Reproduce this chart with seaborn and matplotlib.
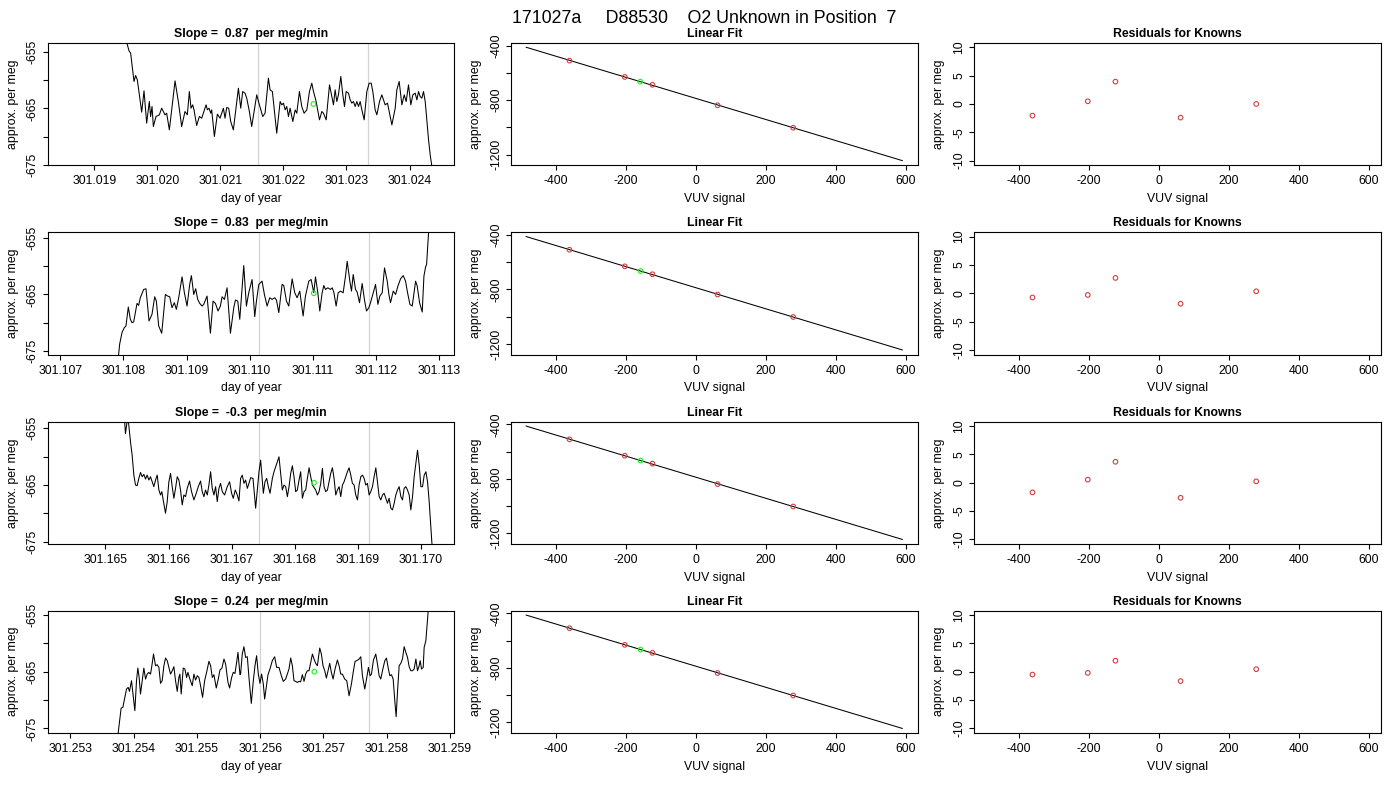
import numpy as np
import pandas as pd
import seaborn as sns
import matplotlib
matplotlib.use("Agg")
import matplotlib.pyplot as plt
from matplotlib.ticker import FormatStrFormatter

# ---- data ----
main_title = "171027a     D88530    O2 Unknown in Position  7"
slope_labels = ["0.87", "0.83", "-0.3", "0.24"]

# left panels: approx. per meg vs day of year
t1 = [301.018500, 301.019000, 301.019514, 301.019551, 301.019577, 301.019630, 301.019656, 301.019683, 301.019752, 301.019789,
      301.019831, 301.019873, 301.019894, 301.019916, 301.019937, 301.019979, 301.020032, 301.020069, 301.020095, 301.020122,
      301.020148, 301.020191, 301.020281, 301.020333, 301.020386, 301.020439, 301.020476, 301.020508, 301.020534, 301.020561,
      301.020582, 301.020624, 301.020667, 301.020704, 301.020773, 301.020794, 301.020820, 301.020847, 301.020862, 301.020905,
      301.020952, 301.020995, 301.021048, 301.021074, 301.021101, 301.021132, 301.021164, 301.021206, 301.021286, 301.021323,
      301.021354, 301.021391, 301.021418, 301.021460, 301.021497, 301.021577, 301.021619, 301.021672, 301.021709, 301.021762,
      301.021788, 301.021825, 301.021894,
      301.021948, 301.021974, 301.022001, 301.022027, 301.022053, 301.022080, 301.022106, 301.022149, 301.022186, 301.022212,
      301.022254, 301.022291, 301.022328, 301.022371, 301.022413, 301.022450, 301.022477, 301.022519, 301.022572, 301.022609,
      301.022635, 301.022678, 301.022731, 301.022768, 301.022794, 301.022820, 301.022847, 301.022873, 301.022910, 301.022942,
      301.022969, 301.022995, 301.023032, 301.023059, 301.023085, 301.023111, 301.023138, 301.023164, 301.023191, 301.023217,
      301.023244, 301.023281, 301.023323, 301.023360, 301.023392, 301.023418, 301.023455, 301.023482, 301.023524, 301.023561,
      301.023614, 301.023651, 301.023683, 301.023720, 301.023773, 301.023799, 301.023836, 301.023879, 301.023916, 301.023947,
      301.023984, 301.024021, 301.024053, 301.024090, 301.024117, 301.024143, 301.024169, 301.024196, 301.024222, 301.024249,
      301.024275, 301.024302, 301.024328, 301.024355, 301.024470]
v1 = [-632.0, -645.0, -653.31, -654.83, -655.25, -660.24, -659.18, -659.95, -665.65, -661.89,
      -667.59, -663.77, -666.42, -664.65, -668.18, -666.42, -666.12, -664.95, -665.53, -666.12,
      -665.83, -668.77, -660.13, -663.77, -668.18, -665.53, -666.12, -662.01, -664.95, -664.36,
      -665.24, -668.00, -666.42, -666.71, -664.36, -665.24, -664.95, -665.83, -665.24, -669.94,
      -666.00, -666.71, -664.95, -666.71, -664.83, -664.95, -667.30, -668.77, -661.42, -664.95,
      -662.01, -662.30, -663.18, -665.53, -668.18, -662.59, -664.36, -666.42, -665.83, -659.65,
      -661.71, -662.01, -669.36,
      -663.77, -664.36, -664.06, -665.24, -664.65, -666.42, -664.95, -667.30, -665.24, -665.83,
      -662.01, -664.65, -665.83, -665.24, -662.01, -660.54, -662.01, -663.77, -667.00, -665.53,
      -665.83, -667.00, -660.83, -662.89, -664.36, -661.71, -663.77, -662.59, -659.36, -662.59,
      -664.65, -662.01, -662.30, -663.48, -664.06, -663.77, -664.65, -663.77, -664.65, -663.77,
      -665.24, -667.00, -662.01, -660.54, -660.54, -662.01, -665.24, -666.12, -663.77, -662.59,
      -664.36, -664.06, -665.83, -667.89, -664.95, -661.71, -660.24, -664.36, -662.59, -663.77,
      -660.83, -664.36, -662.59, -662.30, -663.48, -662.01, -662.89, -663.18, -662.01, -663.77,
      -667.00, -670.53, -673.18, -675.23, -681.0]

t2 = [301.107040, 301.107900,
      301.107925, 301.107941, 301.107978, 301.108015, 301.108041, 301.108078, 301.108110, 301.108136, 301.108163, 301.108189,
      301.108216, 301.108242, 301.108268, 301.108321, 301.108358, 301.108406, 301.108453, 301.108496, 301.108522, 301.108559,
      301.108607, 301.108665, 301.108702, 301.108733, 301.108770, 301.108807, 301.108839, 301.108876, 301.108902, 301.108929,
      301.108966, 301.109008, 301.109050, 301.109077, 301.109114, 301.109145, 301.109177, 301.109209, 301.109246, 301.109272,
      301.109325, 301.109378, 301.109420, 301.109457, 301.109499, 301.109536, 301.109563, 301.109600, 301.109642, 301.109695,
      301.109748, 301.109774, 301.109811, 301.109843,
      301.109906, 301.109948, 301.109985, 301.110038, 301.110080, 301.110107, 301.110144, 301.110196, 301.110233, 301.110276,
      301.110318, 301.110355, 301.110397, 301.110424, 301.110461, 301.110513, 301.110540, 301.110582, 301.110619, 301.110672,
      301.110714, 301.110751, 301.110793, 301.110846, 301.110883, 301.110936, 301.110973, 301.111015, 301.111042, 301.111079,
      301.111110, 301.111147, 301.111174, 301.111200, 301.111237, 301.111279, 301.111306, 301.111332, 301.111369, 301.111401,
      301.111438, 301.111480, 301.111517, 301.111544, 301.111586, 301.111612, 301.111639, 301.111676, 301.111702, 301.111739,
      301.111781, 301.111818, 301.111850, 301.111887, 301.111913, 301.111950, 301.111993, 301.112030, 301.112061, 301.112098,
      301.112135, 301.112178, 301.112204, 301.112230, 301.112273, 301.112310, 301.112347, 301.112389, 301.112431, 301.112468,
      301.112495, 301.112537, 301.112574, 301.112627, 301.112653, 301.112690, 301.112732, 301.112759, 301.112785, 301.112801,
      301.112822, 301.112833, 301.113000]
v2 = [-700.0, -680.0,
      -675.53, -673.78, -671.73, -670.86, -670.56, -667.23, -669.39, -669.98, -669.86, -668.22,
      -666.59, -666.94, -665.59, -664.13, -664.01, -669.69, -668.52, -665.42, -666.18, -670.56,
      -671.85, -665.01, -665.30, -665.42, -667.35, -666.47, -667.64, -665.59, -663.84, -661.91,
      -664.72, -667.06, -663.25, -661.68, -665.01, -664.01, -665.89, -666.59, -667.06, -666.76,
      -665.30, -671.85, -666.18, -666.59, -667.93, -667.06, -665.42, -665.89, -663.84, -671.85,
      -667.35, -666.00, -666.18, -669.39,
      -659.92, -667.06, -664.72, -662.38, -668.93, -666.18, -663.25, -662.67, -665.01, -667.06,
      -665.59, -665.89, -665.59, -666.00, -668.22, -663.25, -663.43, -666.18, -667.06, -662.26,
      -664.72, -665.59, -664.42, -668.81, -665.30, -662.67, -662.38, -664.72, -661.91, -664.72,
      -667.93, -664.72, -663.43, -664.13, -663.84, -664.13, -663.84, -664.60, -667.06, -664.72,
      -664.42, -664.72, -661.79, -659.16, -662.67, -664.42, -661.50, -664.13, -664.60, -666.47,
      -663.08, -666.00, -667.93, -667.35, -666.47, -665.01, -663.25, -666.76, -665.30, -664.72,
      -660.33, -662.67, -665.01, -666.47, -664.42, -665.01, -663.55, -662.26, -661.68, -662.67,
      -664.42, -666.76, -667.06, -662.67, -663.55, -666.47, -668.11, -661.79, -660.16, -659.75,
      -655.94, -654.01, -645.0]

t3 = [301.164323, 301.165290, 301.165317, 301.165355,
      301.165370, 301.165397, 301.165423, 301.165450, 301.165476, 301.165503, 301.165529, 301.165556, 301.165582, 301.165609,
      301.165635, 301.165661, 301.165688, 301.165714, 301.165741, 301.165767, 301.165794, 301.165820, 301.165847, 301.165873,
      301.165894, 301.165915, 301.165952, 301.165979, 301.166005, 301.166032, 301.166058, 301.166085, 301.166111, 301.166138,
      301.166164, 301.166190, 301.166217, 301.166243, 301.166270, 301.166296, 301.166333, 301.166365, 301.166402, 301.166439,
      301.166471, 301.166508, 301.166534, 301.166561, 301.166587, 301.166614, 301.166640, 301.166667, 301.166693, 301.166720,
      301.166746, 301.166772, 301.166799, 301.166825, 301.166852, 301.166889, 301.166931, 301.166968, 301.167000, 301.167026,
      301.167058, 301.167090, 301.167116,
      301.167143, 301.167169, 301.167196, 301.167222, 301.167249, 301.167275, 301.167302, 301.167339, 301.167381, 301.167407,
      301.167434, 301.167460, 301.167487, 301.167503, 301.167529, 301.167556, 301.167582, 301.167609, 301.167646, 301.167672,
      301.167698, 301.167725, 301.167751, 301.167778, 301.167804, 301.167831, 301.167857, 301.167884, 301.167910, 301.167937,
      301.167963, 301.167989, 301.168016, 301.168042, 301.168069, 301.168095, 301.168122, 301.168148, 301.168175, 301.168201,
      301.168228, 301.168254, 301.168280, 301.168333, 301.168360, 301.168386, 301.168413, 301.168439, 301.168466, 301.168492,
      301.168519, 301.168545, 301.168571, 301.168598, 301.168624, 301.168651, 301.168677, 301.168704, 301.168730, 301.168757,
      301.168783, 301.168810, 301.168836, 301.168862, 301.168889, 301.168915, 301.168942, 301.168968, 301.168995, 301.169021,
      301.169048, 301.169074, 301.169101, 301.169127, 301.169153, 301.169180, 301.169206, 301.169233, 301.169259, 301.169286,
      301.169312, 301.169339, 301.169365, 301.169392, 301.169418, 301.169444, 301.169471, 301.169497, 301.169524, 301.169550,
      301.169577, 301.169603, 301.169630, 301.169656, 301.169683, 301.169709, 301.169735, 301.169762, 301.169788, 301.169815,
      301.169841, 301.169868, 301.169894, 301.169921, 301.169947, 301.169974, 301.170000, 301.170027, 301.170053, 301.170080,
      301.170106, 301.170132, 301.170159, 301.170175, 301.170290]
v3 = [-638.0, -651.5, -655.94, -652.8,
      -654.47, -657.40, -659.74, -663.25, -665.00, -665.12, -663.83, -662.78, -663.54, -663.13,
      -663.95, -663.25, -664.12, -663.54, -664.42, -665.29, -664.12, -663.25, -665.88, -666.76,
      -666.17, -667.63, -669.97, -667.92, -664.42, -662.95, -665.29, -667.34, -665.59, -663.54,
      -664.12, -665.88, -668.51, -666.76, -667.05, -665.59, -664.30, -666.17, -667.63, -666.46,
      -665.29, -664.30, -666.17, -667.05, -665.88, -666.76, -665.00, -662.66, -665.59, -666.76,
      -665.29, -667.92, -665.59, -664.71, -666.17, -666.76, -665.29, -664.42, -666.46, -667.34,
      -665.88, -666.76, -667.81,
      -663.83, -663.25, -664.71, -664.12, -665.59, -664.71, -663.71, -663.83, -669.09, -665.88,
      -662.66, -660.61, -664.42, -666.46, -664.42, -663.83, -665.29, -666.46, -663.83, -662.66,
      -661.78, -660.91, -660.03, -662.95, -665.88, -665.00, -665.29, -667.05, -665.29, -662.95,
      -661.61, -663.54, -666.17, -665.88, -664.12, -662.66, -667.34, -666.17, -665.88, -663.83,
      -661.96, -663.54, -665.00, -665.88, -666.76, -666.17, -664.71, -662.08, -665.29, -666.17,
      -665.88, -664.42, -662.95, -661.96, -663.83, -666.76, -665.88, -665.29, -667.05, -665.00,
      -664.42, -663.54, -662.66, -661.96, -663.25, -664.71, -665.00, -666.76, -667.63, -665.00,
      -663.54, -663.25, -663.83, -665.00, -664.71, -666.76, -666.17, -665.29, -663.54, -661.96,
      -664.42, -667.05, -667.63, -666.76, -666.46, -667.34, -668.22, -667.34, -669.09, -669.39,
      -668.22, -666.76, -665.88, -665.29, -667.05, -667.63, -665.59, -665.29, -665.88, -666.76,
      -669.39, -667.05, -663.54, -661.20, -658.86, -661.49, -665.29, -665.29, -663.25, -662.66,
      -664.42, -667.92, -672.60, -675.23, -684.0]

t4 = [301.252879, 301.253740,
      301.253755, 301.253781, 301.253802, 301.253829, 301.253860, 301.253887, 301.253913, 301.253934, 301.253966, 301.253992,
      301.254019, 301.254045, 301.254066, 301.254087, 301.254108, 301.254135, 301.254161, 301.254188, 301.254214, 301.254240,
      301.254267, 301.254288, 301.254314, 301.254346, 301.254372, 301.254399, 301.254425, 301.254451, 301.254478, 301.254504,
      301.254531, 301.254557, 301.254583, 301.254610, 301.254636, 301.254662, 301.254689, 301.254715, 301.254731, 301.254752,
      301.254784, 301.254810, 301.254837, 301.254858, 301.254889, 301.254926, 301.254953, 301.254979, 301.255006, 301.255032,
      301.255058, 301.255090, 301.255122, 301.255153, 301.255190, 301.255217, 301.255243, 301.255269, 301.255306, 301.255338,
      301.255364, 301.255396, 301.255428, 301.255454, 301.255491, 301.255517, 301.255549, 301.255575, 301.255602, 301.255628,
      301.255649, 301.255681,
      301.255691, 301.255717, 301.255744, 301.255770, 301.255797, 301.255823, 301.255860, 301.255892, 301.255918, 301.255944,
      301.255971, 301.255997, 301.256023, 301.256050, 301.256071, 301.256103, 301.256124, 301.256155, 301.256192, 301.256229,
      301.256261, 301.256298, 301.256335, 301.256366, 301.256403, 301.256430, 301.256456, 301.256483, 301.256509, 301.256535,
      301.256562, 301.256588, 301.256614, 301.256641, 301.256667, 301.256694, 301.256720, 301.256746, 301.256773, 301.256799,
      301.256826, 301.256852, 301.256878, 301.256905, 301.256942, 301.256968, 301.256994, 301.257021, 301.257047, 301.257074,
      301.257100, 301.257126, 301.257153, 301.257184, 301.257221, 301.257248, 301.257274, 301.257300, 301.257337, 301.257369,
      301.257406, 301.257443, 301.257475, 301.257501, 301.257527, 301.257564, 301.257591, 301.257617, 301.257654, 301.257686,
      301.257712, 301.257739, 301.257760, 301.257791, 301.257828, 301.257855, 301.257881, 301.257907, 301.257934, 301.257971,
      301.257997, 301.258023, 301.258050, 301.258076, 301.258103, 301.258129, 301.258150, 301.258171, 301.258198, 301.258224,
      301.258250, 301.258277, 301.258303, 301.258330, 301.258356, 301.258382, 301.258409, 301.258435, 301.258462, 301.258488,
      301.258514, 301.258530, 301.258551, 301.258578, 301.258593, 301.258620, 301.258636, 301.258657, 301.258830]
v4 = [-700.0, -678.0,
      -675.81, -673.34, -671.40, -671.28, -669.52, -668.05, -667.76, -668.46, -666.58, -669.23,
      -671.87, -666.58, -664.35, -666.01, -668.93, -666.58, -664.35, -666.29, -665.41, -665.11,
      -665.41, -663.94, -661.88, -663.94, -663.76, -664.23, -667.05, -666.58, -663.94, -662.58,
      -663.05, -664.23, -665.41, -664.82, -664.11, -666.58, -668.46, -666.01, -665.41, -668.93,
      -664.35, -664.52, -666.01, -665.11, -666.29, -667.46, -665.41, -666.46, -665.70, -666.01,
      -667.46, -669.52, -666.58, -665.11, -663.17, -663.94, -666.01, -665.52, -667.87, -666.29,
      -664.70, -664.35, -662.76, -663.64, -666.88, -667.87, -666.01, -665.11, -665.29, -663.35,
      -661.58, -665.52,
      -665.41, -661.88, -660.58, -662.47, -662.35, -666.01, -670.58, -666.58, -663.94, -662.17,
      -665.41, -667.05, -665.41, -667.17, -669.81, -667.17, -665.52, -664.52, -663.05, -662.35,
      -664.23, -664.23, -665.70, -666.70, -666.29, -665.41, -664.52, -662.58, -663.94, -666.58,
      -666.70, -666.88, -666.70, -666.76, -665.52, -666.70, -665.41, -664.82, -664.82, -663.35,
      -661.88, -662.76, -663.52, -663.94, -660.82, -661.88, -663.94, -664.82, -666.11, -664.82,
      -663.52, -665.11, -666.29, -664.52, -662.94, -663.94, -665.41, -665.41, -666.29, -666.58,
      -669.23, -667.17, -664.82, -663.17, -663.05, -662.76, -662.35, -665.70, -668.05, -666.01,
      -664.23, -665.70, -665.41, -662.94, -661.88, -663.64, -665.70, -666.29, -664.82, -663.05,
      -662.58, -664.23, -665.70, -665.52, -666.29, -670.11, -672.93, -668.64, -663.94, -663.52,
      -662.76, -660.58, -661.58, -662.47, -664.11, -664.82, -664.82, -664.52, -662.76, -664.82,
      -663.94, -663.05, -664.52, -664.23, -660.70, -659.53, -657.18, -654.24, -640.0]

times = [t1, t2, t3, t4]
values = [v1, v2, v3, v4]

# unknown (green) point and the two grey window markers per row
unk_time = [301.022476, 301.111015, 301.168306, 301.256857]
unk_value = [-664.2, -664.8, -664.6, -665.0]
window_start = [301.021603, 301.110143, 301.167433, 301.255992]
window_end = [301.023349, 301.111886, 301.169179, 301.257722]
xtick_start = [301.019, 301.107, 301.165, 301.253]
xtick_end = [301.024, 301.113, 301.170, 301.259]

# linear fit of knowns (VUV signal -> approx. per meg)
known_vuv = [-361, -203, -124, 62, 278]
unk_vuv = [-159, -158, -158, -158]
fit_slope = -0.7742
fit_intercept = -787.2
fit_vuv_range = [-485, 590]
residuals = [
    [-2.06, 0.47, 3.94, -2.41, 0.0],
    [-0.75, -0.3, 2.7, -1.85, 0.35],
    [-1.7, 0.55, 3.7, -2.65, 0.25],
    [-0.5, -0.2, 1.95, -1.65, 0.45],
]

# ---- style ----
sns.set_style("ticks")
plt.rcParams['font.family'] = ['Liberation Sans', 'DejaVu Sans']
plt.rcParams.update({
    "axes.unicode_minus": False,
    "text.color": "black",
    "axes.labelcolor": "black",
    "axes.edgecolor": "black",
    "axes.linewidth": 0.8,
    "xtick.direction": "out",
    "ytick.direction": "out",
    "xtick.major.size": 3.8,
    "ytick.major.size": 3.8,
    "xtick.major.width": 0.8,
    "ytick.major.width": 0.8,
    "xtick.color": "black",
    "ytick.color": "black",
    "xtick.labelsize": 8.8,
    "ytick.labelsize": 8.8,
    "axes.labelsize": 8.8,
})

FS = 8.8
RED = "#D04040"
GREEN = "#22EE22"

fig = plt.figure(figsize=(14, 8), dpi=100)
fig.suptitle(main_title, x=0.503, y=0.988, fontsize=12.8, va="top", color="black")

col_left = [47.7, 511.0, 974.0]
ax_w = 406.5
row_top = [42.7, 232.0, 421.5, 610.5]
ax_h = 122.5


def make_ax(r, c):
    rect = [col_left[c] / 1400, 1 - (row_top[r] + ax_h) / 800, ax_w / 1400, ax_h / 800]
    ax = fig.add_axes(rect)
    for s in ax.spines.values():
        s.set_visible(True)
        s.set_color("black")
        s.set_linewidth(0.8)
    return ax


def style_yticks(ax, ticks, labels):
    ax.set_yticks(ticks)
    ax.set_yticklabels(labels, rotation=90, va="center")
    ax.tick_params(axis="y", pad=2.5)
    ax.tick_params(axis="x", pad=3.5)


def expand(lo, hi, f=0.04):
    d = (hi - lo) * f
    return lo - d, hi + d


fit_x = np.array(fit_vuv_range, dtype=float)
fit_y = fit_intercept + fit_slope * fit_x
vuv_lim = expand(fit_x.min(), fit_x.max())
MS = 11

for r in range(4):
    # --- left: time series ---
    ax = make_ax(r, 0)
    ax.axvline(window_start[r], color="#D3D3D3", lw=0.9, zorder=1)
    ax.axvline(window_end[r], color="#D3D3D3", lw=0.9, zorder=1)
    df = pd.DataFrame({"t": times[r], "v": values[r]})
    sns.lineplot(data=df, x="t", y="v", ax=ax, color="black", lw=0.75,
                 sort=False, estimator=None, zorder=2)
    sns.scatterplot(x=[unk_time[r]], y=[unk_value[r]], ax=ax, color=GREEN,
                    facecolor="none", edgecolor=GREEN, s=MS, linewidth=0.8, zorder=3)
    ax.set_xlim(*expand(min(times[r]), max(times[r])))
    ax.set_ylim(unk_value[r] - 10.8, unk_value[r] + 10.8)
    ax.set_xticks(np.round(np.arange(xtick_start[r], xtick_end[r] + 0.0005, 0.001), 3))
    ax.xaxis.set_major_formatter(FormatStrFormatter("%.3f"))
    style_yticks(ax, [-675, -670, -665, -660, -655], ["-675", "", "-665", "", "-655"])
    ax.set_xlabel("day of year", fontsize=FS, labelpad=4)
    ax.set_ylabel("approx. per meg", fontsize=FS, labelpad=6)
    ax.set_title(f"Slope =  {slope_labels[r]}  per meg/min", fontsize=FS,
                 fontweight="bold", pad=4)

    # --- middle: linear fit ---
    ax = make_ax(r, 1)
    known_y = fit_intercept + fit_slope * np.array(known_vuv) + np.array(residuals[r])
    unk_y = fit_intercept + fit_slope * unk_vuv[r]
    sns.lineplot(x=fit_x, y=fit_y, ax=ax, color="black", lw=0.75, sort=False,
                 estimator=None)
    sns.scatterplot(x=known_vuv, y=known_y, ax=ax, color=RED, facecolor="none",
                    edgecolor=RED, s=MS, linewidth=0.8, zorder=3)
    sns.scatterplot(x=[unk_vuv[r]], y=[unk_y], ax=ax, color=GREEN, facecolor="none",
                    edgecolor=GREEN, s=MS, linewidth=0.8, zorder=3)
    ax.set_xlim(*vuv_lim)
    ax.set_ylim(*expand(fit_y.min(), fit_y.max()))
    ax.set_xticks([-400, -200, 0, 200, 400, 600])
    style_yticks(ax, [-1200, -1000, -800, -600, -400], ["-1200", "", "-800", "", "-400"])
    ax.set_xlabel("VUV signal", fontsize=FS, labelpad=4)
    ax.set_ylabel("approx. per meg", fontsize=FS, labelpad=6)
    ax.set_title("Linear Fit", fontsize=FS, fontweight="bold", pad=4)

    # --- right: residuals ---
    ax = make_ax(r, 2)
    sns.scatterplot(x=known_vuv, y=residuals[r], ax=ax, color=RED, facecolor="none",
                    edgecolor=RED, s=MS, linewidth=0.8, zorder=3)
    ax.set_xlim(*vuv_lim)
    ax.set_ylim(-10.8, 10.8)
    ax.set_xticks([-400, -200, 0, 200, 400, 600])
    style_yticks(ax, [-10, -5, 0, 5, 10], ["-10", "-5", "0", "5", "10"])
    ax.set_xlabel("VUV signal", fontsize=FS, labelpad=4)
    ax.set_ylabel("approx. per meg", fontsize=FS, labelpad=6)
    ax.set_title("Residuals for Knowns", fontsize=FS, fontweight="bold", pad=4)

fig.savefig("out.png", dpi=100)
